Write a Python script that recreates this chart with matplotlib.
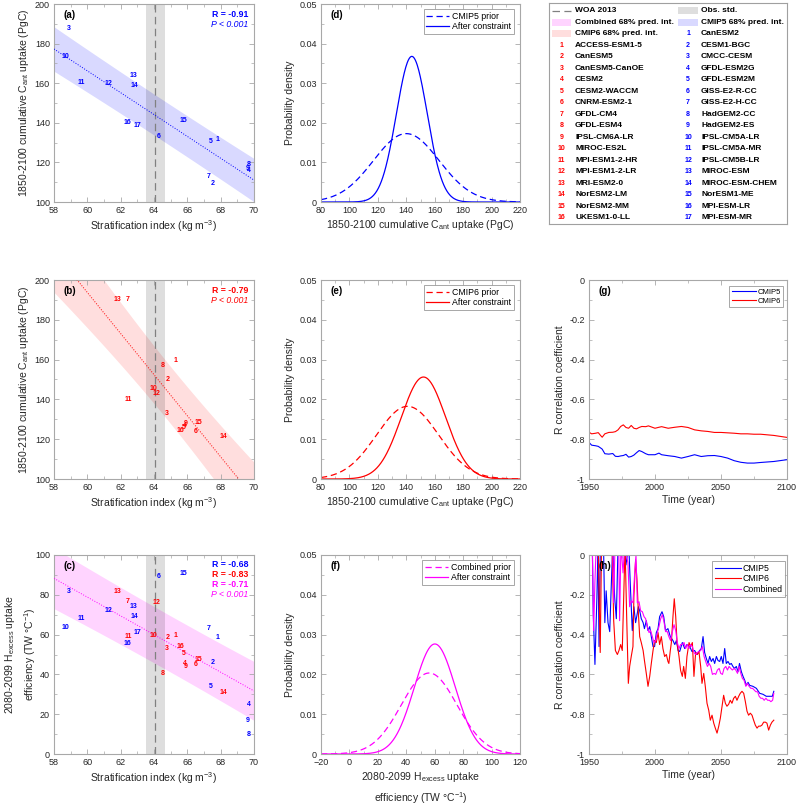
import numpy as np
import matplotlib
matplotlib.use('Agg')
import matplotlib.pyplot as plt
from matplotlib.ticker import AutoMinorLocator, FuncFormatter
from matplotlib.patches import Rectangle

plt.rcParams['font.family'] = ['Liberation Sans', 'DejaVu Sans']
plt.rcParams['mathtext.default'] = 'regular'

# ---------------- data ----------------
cmip5_models = ['CanESM2', 'CESM1-BGC', 'CMCC-CESM', 'GFDL-ESM2G', 'GFDL-ESM2M',
                'GISS-E2-R-CC', 'GISS-E2-H-CC', 'HadGEM2-CC', 'HadGEM2-ES',
                'IPSL-CM5A-LR', 'IPSL-CM5A-MR', 'IPSL-CM5B-LR', 'MIROC-ESM',
                'MIROC-ESM-CHEM', 'NorESM1-ME', 'MPI-ESM-LR', 'MPI-ESM-MR']
cmip6_models = ['ACCESS-ESM1-5', 'CanESM5', 'CanESM5-CanOE', 'CESM2', 'CESM2-WACCM',
                'CNRM-ESM2-1', 'GFDL-CM4', 'GFDL-ESM4', 'IPSL-CM6A-LR', 'MIROC-ES2L',
                'MPI-ESM1-2-HR', 'MPI-ESM1-2-LR', 'MRI-ESM2-0', 'NorESM2-LM',
                'NorESM2-MM', 'UKESM1-0-LL']

cmip5_strat = [67.84, 67.52, 58.86, 69.68, 67.40, 64.28, 67.30, 69.68, 69.64,
               58.68, 59.62, 61.26, 62.76, 62.84, 65.78, 62.40, 62.98]
cmip5_cant = [131.6, 109.4, 187.4, 116.0, 130.4, 132.9, 112.8, 119.0, 116.8,
              173.4, 160.5, 159.7, 163.9, 158.8, 141.2, 140.3, 138.7]
cmip5_heff = [58.6, 46.2, 81.9, 24.8, 33.8, 89.1, 63.1, 10.0, 16.8,
              63.5, 68.2, 72.0, 74.2, 69.2, 90.5, 55.6, 61.3]

cmip6_strat = [65.30, 64.80, 64.76, 65.84, 65.80, 66.52, 62.44, 64.50, 65.88,
               63.96, 62.48, 64.16, 61.78, 68.14, 66.64, 65.58]
cmip6_cant = [159.6, 150.1, 132.8, 126.8, 126.0, 123.8, 190.3, 157.0, 128.1,
              145.4, 140.2, 143.0, 190.3, 121.6, 128.6, 124.6]
cmip6_heff = [59.6, 58.5, 52.8, 45.7, 50.4, 45.1, 76.7, 40.7, 44.2,
              59.6, 59.1, 76.0, 81.6, 30.7, 47.4, 53.9]

obs_strat = 64.07
obs_std = 0.57

r_text_a = ['R = -0.91']
r_text_b = ['R = -0.79']
r_text_c = ['R = -0.68', 'R = -0.83', 'R = -0.71']

# Gaussian PDFs (mean, sd)
pdf_d = {'prior': (140.0, 23.1), 'post': (143.9, 10.85)}
pdf_e = {'prior': (140.9, 21.85), 'post': (152.1, 15.57)}
pdf_f = {'prior': (56.1, 19.6), 'post': (60.1, 14.43)}

# panel g: running correlation
g_years = [1950, 1952, 1955, 1957, 1959, 1960, 1962, 1965, 1968, 1970, 1972, 1974, 1976,
           1978, 1980, 1982, 1984, 1986, 1988, 1990, 1993, 1995, 2000, 2003, 2005,
           2010, 2015, 2020, 2025, 2030, 2035, 2040, 2045, 2050, 2055, 2060, 2065,
           2070, 2075, 2080, 2090, 2100]
g_cmip5 = [-0.816, -0.830, -0.833, -0.836, -0.845, -0.850, -0.873, -0.875, -0.872, -0.886,
           -0.887, -0.884, -0.882, -0.876, -0.890, -0.887, -0.880, -0.868, -0.857, -0.862,
           -0.873, -0.878, -0.878, -0.870, -0.878, -0.883, -0.887, -0.895, -0.887, -0.878,
           -0.887, -0.883, -0.882, -0.887, -0.895, -0.908, -0.916, -0.920, -0.920,
           -0.917, -0.912, -0.903]
g_cmip6 = [-0.765, -0.773, -0.770, -0.767, -0.783, -0.790, -0.773, -0.766, -0.765, -0.762,
           -0.753, -0.736, -0.728, -0.741, -0.745, -0.731, -0.745, -0.748, -0.741, -0.736,
           -0.737, -0.733, -0.745, -0.740, -0.737, -0.745, -0.740, -0.736, -0.741, -0.753,
           -0.758, -0.761, -0.766, -0.766, -0.768, -0.770, -0.773, -0.773, -0.775,
           -0.775, -0.781, -0.791]

# panel h
h_c5_years = [1952.5, 1953.2, 1954.5, 1956.0, 1956.8, 1957.6, 1958.6, 1961.0, 1962.0, 1963.0,
              1964.4, 1965.7, 1967.0, 1968.0, 1969.4, 1970.7, 1972.0, 1976.0, 1978.0, 1979.0,
              1980.3, 1981.3, 1982.8, 1984.0, 1985.3, 1986.4, 1987.4, 1988.4, 1989.6, 1991.0,
              1992.0, 1993.4, 1994.7, 1996.0, 1997.2, 1998.5, 1999.7, 2001.0, 2002.3, 2003.5,
              2005.3, 2006.6, 2008.0, 2009.8, 2011.6, 2013.6, 2015.0, 2016.2, 2017.5, 2018.7,
              2020.7, 2022.5, 2024.2, 2026.3, 2028.0, 2030.0, 2031.8, 2033.8, 2035.1, 2036.4,
              2037.6, 2038.9, 2040.2, 2041.4, 2042.7, 2044.0, 2045.2, 2046.5, 2047.7, 2049.0,
              2050.2, 2051.5, 2052.8, 2054.0, 2055.3, 2056.6, 2057.8, 2059.0, 2060.3, 2061.6,
              2062.9, 2064.0, 2065.4, 2066.7, 2068.0, 2069.2, 2070.5, 2071.7, 2074.2, 2076.8,
              2079.3, 2081.8, 2084.3, 2086.9, 2088.9, 2090.0]
h_c5 = [0.05, -0.29, -0.55, -0.21, 0.05, -0.46, 0.05, 0.05, -0.34, -0.18,
        -0.34, -0.385, -0.13, 0.05, -0.21, -0.32, 0.05, 0.05, -0.05, 0.0,
        0.02, -0.15, -0.38, -0.26, -0.34, -0.30, -0.26, -0.28, -0.32, -0.34,
        -0.37, -0.33, -0.38, -0.36, -0.41, -0.46, -0.46, -0.39, -0.37, -0.31,
        -0.285, -0.31, -0.38, -0.37, -0.41, -0.43, -0.45, -0.43, -0.48, -0.485,
        -0.44, -0.47, -0.45, -0.46, -0.485, -0.48, -0.50, -0.48, -0.47, -0.41,
        -0.49, -0.52, -0.545, -0.51, -0.535, -0.52, -0.545, -0.51, -0.53, -0.535,
        -0.51, -0.545, -0.47, -0.545, -0.535, -0.55, -0.545, -0.56, -0.57, -0.56,
        -0.586, -0.545, -0.586, -0.61, -0.63, -0.655, -0.64, -0.655, -0.66, -0.67,
        -0.695, -0.70, -0.71, -0.71, -0.71, -0.685]
h_c6_years = [1952.0, 1955.0, 1957.0, 1958.5, 1959.5, 1967.5, 1968.7, 1970.0, 1971.5, 1972.7,
              1974.0, 1975.2, 1976.3, 1977.3, 1978.5, 1979.8, 1980.8, 1982.0, 1983.3, 1984.0,
              1985.3, 1986.4, 1987.4, 1988.4, 1989.6, 1991.0, 1992.0, 1993.4, 1994.7, 1996.0,
              1997.2, 1998.5, 1999.7, 2001.0, 2002.3, 2003.5, 2004.8, 2006.0, 2007.3, 2008.6,
              2009.8, 2010.5, 2011.6, 2012.4, 2013.6, 2014.6, 2015.7, 2016.7, 2018.2, 2019.4,
              2020.7, 2021.7, 2023.0, 2024.2, 2025.8, 2027.0, 2028.3, 2029.5, 2030.8, 2032.0,
              2033.3, 2034.6, 2035.6, 2036.9, 2038.1, 2039.4, 2040.7, 2041.9, 2043.2, 2044.5,
              2045.7, 2047.0, 2048.3, 2049.5, 2050.8, 2052.0, 2053.3, 2054.5, 2055.8, 2057.0,
              2058.3, 2059.6, 2060.9, 2062.1, 2063.4, 2064.6, 2065.9, 2067.2, 2068.4, 2069.7,
              2070.9, 2072.2, 2073.5, 2074.7, 2076.0, 2077.3, 2078.5, 2079.8, 2081.0, 2082.3,
              2083.6, 2084.8, 2086.1, 2087.4, 2088.6, 2090.0]
h_c6 = [0.05, 0.05, 0.05, -0.49, 0.05, 0.05, -0.33, -0.48, -0.50, -0.48,
        -0.45, -0.48, -0.21, 0.05, -0.30, -0.645, -0.56, -0.51, -0.46, -0.21,
        -0.025, -0.13, -0.29, -0.41, -0.44, -0.48, -0.53, -0.595, -0.66, -0.61,
        -0.545, -0.48, -0.43, -0.44, -0.39, -0.45, -0.41, -0.47, -0.51, -0.50,
        -0.535, -0.545, -0.48, -0.44, -0.31, -0.22, -0.31, -0.44, -0.51, -0.58,
        -0.61, -0.56, -0.62, -0.51, -0.44, -0.46, -0.44, -0.61, -0.49, -0.50,
        -0.485, -0.56, -0.645, -0.595, -0.66, -0.745, -0.78, -0.83, -0.805, -0.845,
        -0.87, -0.895, -0.86, -0.82, -0.76, -0.705, -0.745, -0.76, -0.75, -0.73,
        -0.745, -0.72, -0.71, -0.73, -0.71, -0.695, -0.685, -0.695, -0.735, -0.785,
        -0.805, -0.795, -0.805, -0.83, -0.855, -0.87, -0.86, -0.86, -0.855, -0.84,
        -0.84, -0.845, -0.88, -0.855, -0.84, -0.83]
h_cb_years = [1952.5, 1953.5, 1954.5, 1955.5, 1968.0, 1968.7, 1969.7, 1972.5, 1973.2, 1974.2,
              1975.8, 1977.0, 1979.5, 1980.8, 1982.0, 1983.3, 1984.6, 1985.6, 1986.6, 1987.9,
              1989.1, 1990.4, 1991.7, 1992.9, 1994.2, 1995.5, 1996.7, 1998.0, 1999.2, 2000.5,
              2001.8, 2003.0, 2004.3, 2005.6, 2006.8, 2008.0, 2009.3, 2010.5, 2011.8, 2013.0,
              2014.4, 2015.7, 2016.9, 2018.2, 2019.4, 2020.7, 2022.0, 2023.2, 2024.5, 2025.8,
              2027.0, 2028.3, 2029.5, 2030.8, 2032.0, 2033.3, 2034.6, 2035.9, 2037.2, 2038.4,
              2039.7, 2041.0, 2042.2, 2043.5, 2044.8, 2046.0, 2047.3, 2048.6, 2049.8, 2051.1,
              2052.3, 2053.6, 2054.9, 2056.1, 2057.4, 2058.6, 2059.9, 2061.2, 2062.5, 2063.7,
              2065.0, 2066.2, 2067.5, 2068.8, 2070.0, 2071.3, 2072.6, 2073.9, 2075.1, 2076.4,
              2077.7, 2078.9, 2080.2, 2081.5, 2082.7, 2084.0, 2085.3, 2086.6, 2087.8, 2089.1,
              2090.0]
h_cb = [0.05, -0.38, -0.13, 0.05, 0.05, -0.24, 0.05, 0.05, -0.33, 0.05,
        -0.09, 0.05, -0.04, -0.26, -0.23, -0.24, -0.09, 0.0, -0.24, -0.235,
        -0.28, -0.285, -0.31, -0.32, -0.36, -0.39, -0.38, -0.41, -0.44, -0.43,
        -0.39, -0.36, -0.32, -0.30, -0.335, -0.385, -0.385, -0.41, -0.43, -0.39,
        -0.35, -0.38, -0.44, -0.47, -0.45, -0.45, -0.44, -0.47, -0.45, -0.47,
        -0.45, -0.46, -0.49, -0.50, -0.49, -0.485, -0.48, -0.46, -0.51, -0.535,
        -0.56, -0.545, -0.56, -0.60, -0.595, -0.60, -0.578, -0.57, -0.595, -0.60,
        -0.57, -0.56, -0.578, -0.56, -0.57, -0.578, -0.57, -0.578, -0.595, -0.56,
        -0.595, -0.62, -0.63, -0.66, -0.645, -0.66, -0.67, -0.67, -0.678, -0.687,
        -0.687, -0.71, -0.72, -0.72, -0.73, -0.72, -0.73, -0.73, -0.737, -0.73,
        -0.695]

# ---------------- styling ----------------
BLUE = '#0000FF'
RED = '#FF0000'
MAG = '#FF00FF'
SPINE = '#A8A8A8'
TXT = '#262626'
TICK_FS = 6.5
LAB_FS = 7.5
NUM_FS = 5.0

W, H = 798, 805
fig = plt.figure(figsize=(W / 100, H / 100), dpi=100)
fig.patch.set_facecolor('white')


def add_ax(left, top, w, h):
    return fig.add_axes([left / W, 1 - (top + h) / H, w / W, h / H])


def style(ax):
    for s in ax.spines.values():
        s.set_color(SPINE)
        s.set_linewidth(0.8)
    ax.tick_params(which='both', direction='in', top=True, right=True,
                   colors=SPINE, labelcolor=TXT, labelsize=TICK_FS, pad=3)
    ax.tick_params(which='major', length=3.5, width=0.6)
    ax.tick_params(which='minor', length=2, width=0.5)
    ax.xaxis.set_minor_locator(AutoMinorLocator(2))
    ax.yaxis.set_minor_locator(AutoMinorLocator(2))


def fmt(v, _):
    v = round(v, 3)
    return '0' if v == 0 else f'{v:g}'


def pred_band(x, y, xs, t=1.0):
    x = np.asarray(x); y = np.asarray(y)
    n = len(x)
    b, a = np.polyfit(x, y, 1)
    yhat = a + b * xs
    s = np.sqrt(np.sum((y - (a + b * x)) ** 2) / (n - 2))
    sxx = np.sum((x - x.mean()) ** 2)
    half = t * s * np.sqrt(1 + 1 / n + (xs - x.mean()) ** 2 / sxx)
    return yhat, yhat - half, yhat + half


def panel_label(ax, s):
    ax.text(0.05, 0.946, s, transform=ax.transAxes, fontsize=7, fontweight='bold',
            ha='left', va='center', color='black')


def scatter_numbers(ax, xs, ys, color):
    for i, (x, y) in enumerate(zip(xs, ys)):
        ax.text(x, y, str(i + 1), color=color, fontsize=NUM_FS, fontweight='bold',
                ha='center', va='center', zorder=5)


xs_fit = np.linspace(58, 70, 200)


def obs_band(ax):
    ax.axvspan(obs_strat - obs_std, obs_strat + obs_std, color='black', alpha=0.13,
               lw=0, zorder=1)
    ax.axvline(obs_strat, color='#808080', lw=0.9, ls=(0, (6, 3.5)), zorder=2)


strat_label = 'Stratification index (kg m$^{-3}$)'
cant_label = '1850-2100 cumulative C$_{ant}$ uptake (PgC)'
heff_label = '2080-2099 H$_{excess}$ uptake\nefficiency (TW $\\degree$C$^{-1}$)'

# ---------------- panel a ----------------
ax = add_ax(54, 4, 200, 198)
style(ax)
yh, lo, hi = pred_band(cmip5_strat, cmip5_cant, xs_fit)
ax.fill_between(xs_fit, lo, hi, color=BLUE, alpha=0.15, lw=0, zorder=1)
ax.plot(xs_fit, yh, ls=':', color=BLUE, lw=0.7, zorder=3)
obs_band(ax)
scatter_numbers(ax, cmip5_strat, cmip5_cant, BLUE)
ax.set_xlim(58, 70); ax.set_ylim(100, 200)
ax.set_xticks(np.arange(58, 71, 2)); ax.set_yticks(np.arange(100, 201, 20))
ax.set_xlabel(strat_label, fontsize=LAB_FS, color=TXT, labelpad=2)
ax.set_ylabel(cant_label, fontsize=LAB_FS, color=TXT, labelpad=3)
panel_label(ax, '(a)')
ax.text(0.97, 0.948, r_text_a[0], transform=ax.transAxes, color=BLUE, fontsize=6.3,
        fontweight='bold', ha='right', va='center')
ax.text(0.97, 0.897, 'P < 0.001', transform=ax.transAxes, color=BLUE, fontsize=6.3,
        style='italic', ha='right', va='center')

# ---------------- panel b ----------------
ax = add_ax(54, 280, 200, 199)
style(ax)
yh, lo, hi = pred_band(cmip6_strat, cmip6_cant, xs_fit)
ax.fill_between(xs_fit, lo, hi, color=RED, alpha=0.13, lw=0, zorder=1)
ax.plot(xs_fit, yh, ls=':', color=RED, lw=0.7, zorder=3)
obs_band(ax)
scatter_numbers(ax, cmip6_strat, cmip6_cant, RED)
ax.set_xlim(58, 70); ax.set_ylim(100, 200)
ax.set_xticks(np.arange(58, 71, 2)); ax.set_yticks(np.arange(100, 201, 20))
ax.set_xlabel(strat_label, fontsize=LAB_FS, color=TXT, labelpad=2)
ax.set_ylabel(cant_label, fontsize=LAB_FS, color=TXT, labelpad=3)
panel_label(ax, '(b)')
ax.text(0.97, 0.948, r_text_b[0], transform=ax.transAxes, color=RED, fontsize=6.3,
        fontweight='bold', ha='right', va='center')
ax.text(0.97, 0.897, 'P < 0.001', transform=ax.transAxes, color=RED, fontsize=6.3,
        style='italic', ha='right', va='center')

# ---------------- panel c ----------------
ax = add_ax(54, 555, 200, 199)
style(ax)
all_strat = cmip5_strat + cmip6_strat
all_heff = cmip5_heff + cmip6_heff
yh, lo, hi = pred_band(all_strat, all_heff, xs_fit)
ax.fill_between(xs_fit, lo, hi, color=MAG, alpha=0.17, lw=0, zorder=1)
ax.plot(xs_fit, yh, ls=':', color=MAG, lw=0.7, zorder=3)
obs_band(ax)
scatter_numbers(ax, cmip5_strat, cmip5_heff, BLUE)
scatter_numbers(ax, cmip6_strat, cmip6_heff, RED)
ax.set_xlim(58, 70); ax.set_ylim(0, 100)
ax.set_xticks(np.arange(58, 71, 2)); ax.set_yticks(np.arange(0, 101, 20))
ax.set_xlabel(strat_label, fontsize=LAB_FS, color=TXT, labelpad=2)
ax.set_ylabel(heff_label, fontsize=LAB_FS, color=TXT, linespacing=1.4)
ax.yaxis.set_label_coords(-0.08, 0.5)
panel_label(ax, '(c)')
for i, (txt, col) in enumerate(zip(r_text_c, [BLUE, RED, MAG])):
    ax.text(0.97, 0.953 - 0.051 * i, txt, transform=ax.transAxes, color=col,
            fontsize=6.3, fontweight='bold', ha='right', va='center')
ax.text(0.97, 0.799, 'P < 0.001', transform=ax.transAxes, color=MAG, fontsize=6.3,
        style='italic', ha='right', va='center')


# ---------------- PDF panels ----------------
def gauss(x, m, s):
    return np.exp(-0.5 * ((x - m) / s) ** 2) / (s * np.sqrt(2 * np.pi))


def pdf_panel(top, pdfs, color, xlim, prior_lab, label, xlabel):
    ax = add_ax(321, top, 199, 198 if top < 10 else 199)
    style(ax)
    xs = np.linspace(xlim[0], xlim[1], 400)
    ax.plot(xs, gauss(xs, *pdfs['prior']), color=color, lw=0.9, ls=(0, (5, 3)),
            label=prior_lab)
    ax.plot(xs, gauss(xs, *pdfs['post']), color=color, lw=0.9, label='After constraint')
    ax.set_xlim(*xlim); ax.set_ylim(0, 0.05)
    ax.set_xticks(np.arange(xlim[0], xlim[1] + 1, 20))
    ax.set_yticks(np.arange(0, 0.051, 0.01))
    ax.yaxis.set_major_formatter(FuncFormatter(fmt))
    ax.set_ylabel('Probability density', fontsize=LAB_FS, color=TXT, labelpad=3)
    ax.set_xlabel(xlabel, fontsize=LAB_FS, color=TXT, labelpad=2, linespacing=1.5)
    panel_label(ax, label)
    leg = ax.legend(loc='upper right', bbox_to_anchor=(0.97, 0.975), fontsize=6.3,
                    frameon=True, fancybox=False, borderaxespad=0, handlelength=2.6,
                    handletextpad=0.4, borderpad=0.3, labelspacing=0.2)
    leg.get_frame().set_edgecolor('#909090'); leg.get_frame().set_linewidth(0.7)
    return ax


pdf_panel(4, pdf_d, BLUE, (80, 220), 'CMIP5 prior', '(d)', cant_label)
pdf_panel(280, pdf_e, RED, (80, 220), 'CMIP6 prior', '(e)', cant_label)
pdf_panel(555, pdf_f, MAG, (-20, 120), 'Combined prior', '(f)', heff_label)

# ---------------- panel g ----------------
ax = add_ax(589, 280, 198, 199)
style(ax)
ax.plot(g_years, g_cmip5, color=BLUE, lw=0.8, label='CMIP5')
ax.plot(g_years, g_cmip6, color=RED, lw=0.8, label='CMIP6')
ax.set_xlim(1950, 2100); ax.set_ylim(-1, 0)
ax.set_xticks([1950, 2000, 2050, 2100]); ax.set_yticks(np.arange(-1, 0.01, 0.2))
ax.yaxis.set_major_formatter(FuncFormatter(fmt))
ax.set_xlabel('Time (year)', fontsize=LAB_FS, color=TXT, labelpad=2)
ax.set_ylabel('R correlation coefficient', fontsize=LAB_FS, color=TXT, labelpad=3)
panel_label(ax, '(g)')
leg = ax.legend(loc='upper right', bbox_to_anchor=(0.98, 0.97), fontsize=5.5,
                frameon=True, fancybox=False, borderaxespad=0, handlelength=3.2,
                handletextpad=0.15, borderpad=0.3, labelspacing=0.25)
leg.get_frame().set_edgecolor('#909090'); leg.get_frame().set_linewidth(0.7)

# ---------------- panel h ----------------
ax = add_ax(589, 555, 198, 199)
style(ax)
ax.plot(h_c5_years, h_c5, color=BLUE, lw=0.8, label='CMIP5')
ax.plot(h_c6_years, h_c6, color=RED, lw=0.8, label='CMIP6')
ax.plot(h_cb_years, h_cb, color=MAG, lw=0.8, label='Combined')
ax.set_xlim(1950, 2100); ax.set_ylim(-1, 0)
ax.set_xticks([1950, 2000, 2050, 2100]); ax.set_yticks(np.arange(-1, 0.01, 0.2))
ax.yaxis.set_major_formatter(FuncFormatter(fmt))
ax.set_xlabel('Time (year)', fontsize=LAB_FS, color=TXT, labelpad=2)
ax.set_ylabel('R correlation coefficient', fontsize=LAB_FS, color=TXT, labelpad=3)
panel_label(ax, '(h)')
leg = ax.legend(loc='upper right', bbox_to_anchor=(0.99, 0.97), fontsize=6.3,
                frameon=True, fancybox=False, borderaxespad=0, handlelength=3.0,
                handletextpad=0.15, borderpad=0.3, labelspacing=0.2)
leg.get_frame().set_edgecolor('#909090'); leg.get_frame().set_linewidth(0.7)

# ---------------- model legend ----------------
lg = add_ax(549, 3, 238, 221)
lg.set_xlim(549, 787); lg.set_ylim(224, 3)
lg.set_xticks([]); lg.set_yticks([])
for s in lg.spines.values():
    s.set_color('#A0A0A0'); s.set_linewidth(0.8)


def row_y(i):
    return 10.7 + 11.5 * i


LFS = 6.0
c1_sym, c1_txt = 561.5, 575
c2_sym, c2_txt = 688, 701
# column 1
lg.plot([552, 571], [row_y(0)] * 2, color='#808080', lw=0.9, ls=(0, (6, 3.5)))
lg.text(c1_txt, row_y(0), 'WOA 2013', fontsize=LFS, fontweight='bold', va='center')
lg.add_patch(Rectangle((552, row_y(1) - 3.5), 19, 7, color=MAG, alpha=0.17, lw=0))
lg.text(c1_txt, row_y(1), 'Combined 68% pred. int.', fontsize=LFS, fontweight='bold',
        va='center')
lg.add_patch(Rectangle((552, row_y(2) - 3.5), 19, 7, color=RED, alpha=0.13, lw=0))
lg.text(c1_txt, row_y(2), 'CMIP6 68% pred. int.', fontsize=LFS, fontweight='bold',
        va='center')
for i, name in enumerate(cmip6_models):
    y = row_y(3 + i)
    lg.text(c1_sym, y, str(i + 1), color=RED, fontsize=NUM_FS, fontweight='bold',
            ha='center', va='center')
    lg.text(c1_txt, y, name, fontsize=LFS, fontweight='bold', va='center')
# column 2
lg.add_patch(Rectangle((678, row_y(0) - 3.5), 20, 7, color='black', alpha=0.13, lw=0))
lg.text(c2_txt, row_y(0), 'Obs. std.', fontsize=LFS, fontweight='bold', va='center')
lg.add_patch(Rectangle((678, row_y(1) - 3.5), 20, 7, color=BLUE, alpha=0.15, lw=0))
lg.text(c2_txt, row_y(1), 'CMIP5 68% pred. int.', fontsize=LFS, fontweight='bold',
        va='center')
for i, name in enumerate(cmip5_models):
    y = row_y(2 + i)
    lg.text(c2_sym, y, str(i + 1), color=BLUE, fontsize=NUM_FS, fontweight='bold',
            ha='center', va='center')
    lg.text(c2_txt, y, name, fontsize=LFS, fontweight='bold', va='center')

fig.savefig('out.png', dpi=100, facecolor='white')
